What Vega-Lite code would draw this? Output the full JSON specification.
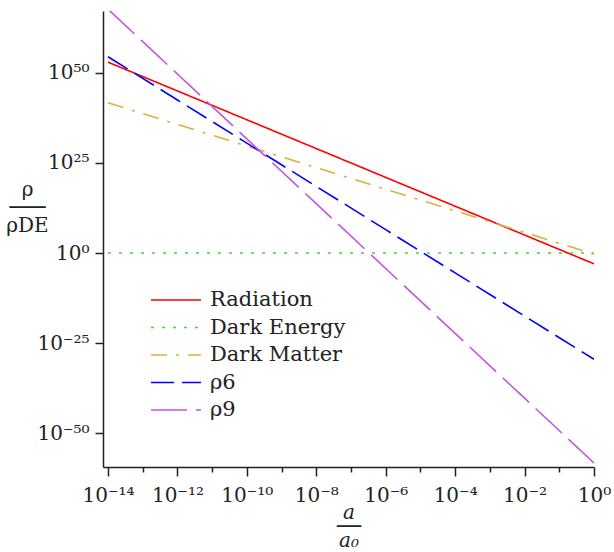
{
  "$schema": "https://vega.github.io/schema/vega-lite/v6.json",
  "width": 491,
  "height": 456,
  "autosize": {"type": "none"},
  "padding": {"left": 103, "top": 11, "right": 20, "bottom": 85},
  "background": "white",
  "config": {
    "view": {"stroke": null},
    "font": "DejaVu Serif",
    "axis": {"grid": false, "domainColor": "#222", "tickColor": "#222", "domainWidth": 1.5, "tickWidth": 1.5, "labelColor": "#222", "titleColor": "#222", "labelFont": "DejaVu Serif", "titleFont": "DejaVu Serif", "labelFontSize": 20, "titleFontSize": 20, "titleFontWeight": "normal"}
  },
  "data": {
    "values": [
      {"series": "Radiation", "a": 1e-14, "rho": 1e53},
      {"series": "Radiation", "a": 1e-12, "rho": 1e45},
      {"series": "Radiation", "a": 1e-10, "rho": 1e37},
      {"series": "Radiation", "a": 1e-8, "rho": 1e29},
      {"series": "Radiation", "a": 1e-6, "rho": 1e21},
      {"series": "Radiation", "a": 1e-4, "rho": 1e13},
      {"series": "Radiation", "a": 1e-2, "rho": 1e5},
      {"series": "Radiation", "a": 1, "rho": 1e-3},
      {"series": "Dark Energy", "a": 1e-14, "rho": 1},
      {"series": "Dark Energy", "a": 1e-12, "rho": 1},
      {"series": "Dark Energy", "a": 1e-10, "rho": 1},
      {"series": "Dark Energy", "a": 1e-8, "rho": 1},
      {"series": "Dark Energy", "a": 1e-6, "rho": 1},
      {"series": "Dark Energy", "a": 1e-4, "rho": 1},
      {"series": "Dark Energy", "a": 1e-2, "rho": 1},
      {"series": "Dark Energy", "a": 1, "rho": 1},
      {"series": "Dark Matter", "a": 1e-14, "rho": 5.01e41},
      {"series": "Dark Matter", "a": 1e-12, "rho": 5.01e35},
      {"series": "Dark Matter", "a": 1e-10, "rho": 5.01e29},
      {"series": "Dark Matter", "a": 1e-8, "rho": 5.01e23},
      {"series": "Dark Matter", "a": 1e-6, "rho": 5.01e17},
      {"series": "Dark Matter", "a": 1e-4, "rho": 5.01e11},
      {"series": "Dark Matter", "a": 1e-2, "rho": 5.01e5},
      {"series": "Dark Matter", "a": 1, "rho": 0.501},
      {"series": "ρ6", "a": 1e-14, "rho": 3.16e54},
      {"series": "ρ6", "a": 1e-12, "rho": 3.16e42},
      {"series": "ρ6", "a": 1e-10, "rho": 3.16e30},
      {"series": "ρ6", "a": 1e-8, "rho": 3.16e18},
      {"series": "ρ6", "a": 1e-6, "rho": 3.16e6},
      {"series": "ρ6", "a": 1e-4, "rho": 3.16e-6},
      {"series": "ρ6", "a": 1e-2, "rho": 3.16e-18},
      {"series": "ρ6", "a": 1, "rho": 3.16e-30},
      {"series": "ρ9", "a": 1e-14, "rho": 5.01e67},
      {"series": "ρ9", "a": 1e-12, "rho": 5.01e49},
      {"series": "ρ9", "a": 1e-10, "rho": 5.01e31},
      {"series": "ρ9", "a": 1e-8, "rho": 5.01e13},
      {"series": "ρ9", "a": 1e-6, "rho": 5.01e-5},
      {"series": "ρ9", "a": 1e-4, "rho": 5.01e-23},
      {"series": "ρ9", "a": 1e-2, "rho": 5.01e-41},
      {"series": "ρ9", "a": 1, "rho": 5.01e-59}
    ]
  },
  "mark": {"type": "line", "clip": true, "strokeWidth": 1.6, "strokeCap": "butt"},
  "encoding": {
    "x": {
      "field": "a", "type": "quantitative",
      "scale": {"type": "log", "domain": [7.18e-15, 1], "nice": false},
      "axis": {
        "values": [1e-14, 1e-13, 1e-12, 1e-11, 1e-10, 1e-9, 1e-8, 1e-7, 1e-6, 1e-5, 1e-4, 1e-3, 1e-2, 1e-1, 1],
        "tickSize": {"condition": {"test": "abs(round(log(datum.value)/LN10)) % 2 == 0", "value": 9}, "value": 5},
        "labelExpr": "(abs(round(log(datum.value)/LN10)) % 2 == 0) ? ['10⁻¹⁴','10⁻¹²','10⁻¹⁰','10⁻⁸','10⁻⁶','10⁻⁴','10⁻²','10⁰'][(round(log(datum.value)/LN10)+14)/2] : ''",
        "labelPadding": 9,
        "labelFlush": false,
        "labelOverlap": false,
        "title": ["a", "──", "a₀"],
        "titleFontStyle": "italic",
        "titleLineHeight": 14,
        "titleBaseline": "top",
        "titleY": 35
      }
    },
    "y": {
      "field": "rho", "type": "quantitative",
      "scale": {"type": "log", "domain": [3.98e-60, 1.58e67], "nice": false},
      "axis": {
        "values": [1e-50, 1e-25, 1, 1e25, 1e50],
        "tickSize": 8,
        "labelExpr": "['10⁻⁵⁰','10⁻²⁵','10⁰','10²⁵','10⁵⁰'][(round(log(datum.value)/LN10)+50)/25]",
        "labelPadding": 6,
        "labelFlush": false,
        "labelOverlap": false,
        "title": ["ρ", "───", "ρDE"],
        "titleAngle": 0,
        "titleAlign": "center",
        "titleBaseline": "top",
        "titleLineHeight": 18,
        "titleX": -76,
        "titleY": 168
      }
    },
    "color": {
      "field": "series", "type": "nominal",
      "scale": {"domain": ["Radiation", "Dark Energy", "Dark Matter", "ρ6", "ρ9"], "range": ["#ff0000", "#33dd33", "#dfae3c", "#0000ff", "#c056e0"]},
      "legend": {
        "title": null,
        "orient": "none",
        "legendX": 62,
        "legendY": 278,
        "symbolType": "M-2.5,0H2.5",
        "symbolSize": 400,
        "symbolStrokeWidth": 1.6,
        "labelFont": "DejaVu Serif",
        "labelFontSize": 21,
        "labelColor": "#222",
        "labelOffset": 23,
        "rowPadding": 6.5,
        "labelLimit": 300
      }
    },
    "strokeDash": {
      "field": "series", "type": "nominal",
      "scale": {"domain": ["Radiation", "Dark Energy", "Dark Matter", "ρ6", "ρ9"], "range": [[1, 0], [3, 8], [16, 9, 3, 9], [23, 8], [36, 9]]},
      "legend": null
    }
  }
}
